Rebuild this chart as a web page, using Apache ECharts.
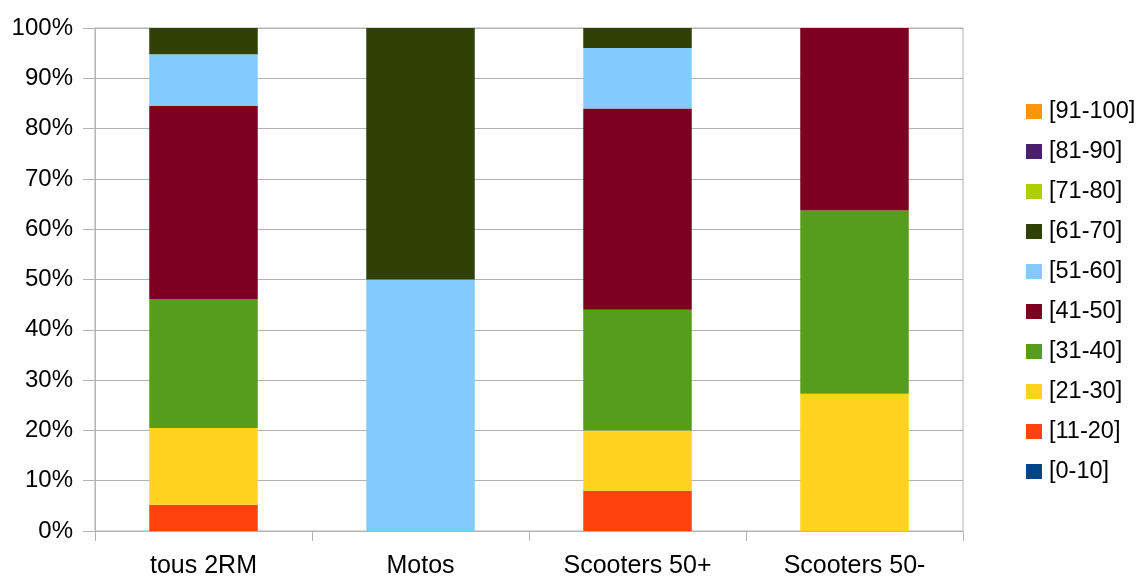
<!DOCTYPE html>
<html>
<head>
<meta charset="utf-8">
<script src="https://cdn.jsdelivr.net/npm/echarts@6/dist/echarts.min.js"></script>
<style>
html,body{margin:0;padding:0;background:#fff;}
#chart{width:1140px;height:578px;}
</style>
</head>
<body>
<div id="chart"></div>
<script>
const categories = ['tous 2RM', 'Motos', 'Scooters 50+', 'Scooters 50-'];
const seriesNames = ['[0-10]', '[11-20]', '[21-30]', '[31-40]', '[41-50]', '[51-60]', '[61-70]', '[71-80]', '[81-90]', '[91-100]'];
const colors = ['#004586', '#ff420e', '#ffd320', '#579d1c', '#7e0021', '#83caff', '#314004', '#aecf00', '#4b1f6f', '#ff950e'];
// percentage shares per category
const v0_10   = [0, 0, 0, 0];
const v11_20  = [5.2, 0, 8, 0];
const v21_30  = [15.3, 0, 12, 27.3];
const v31_40  = [25.6, 0, 24, 36.4];
const v41_50  = [38.4, 0, 40, 36.3];
const v51_60  = [10.3, 50, 12, 0];
const v61_70  = [5.2, 50, 4, 0];
const v71_80  = [0, 0, 0, 0];
const v81_90  = [0, 0, 0, 0];
const v91_100 = [0, 0, 0, 0];
const values = [v0_10, v11_20, v21_30, v31_40, v41_50, v51_60, v61_70, v71_80, v81_90, v91_100];
const yTicks = [0, 10, 20, 30, 40, 50, 60, 70, 80, 90, 100];

const FONT = '"Liberation Sans", Arial, sans-serif';
const gridColor = '#b3b3b3';

const chart = echarts.init(document.getElementById('chart'), null, {renderer: 'canvas'});
chart.setOption({
  animation: false,
  backgroundColor: '#fff',
  grid: {left: 95, right: 177, top: 28, bottom: 47, show: true, borderColor: gridColor, borderWidth: 1,
         containLabel: false, outerBoundsMode: 'none'},
  legend: {
    orient: 'vertical',
    left: 1021,
    top: 94,
    itemWidth: 16,
    itemHeight: 15,
    itemGap: 15,
    icon: 'rect',
    data: seriesNames.slice().reverse(),
    textStyle: {fontFamily: FONT, fontSize: 23.5, color: '#000', lineHeight: 24, padding: [1, 0, 0, 2]}
  },
  xAxis: {
    type: 'category',
    data: categories,
    axisLine: {lineStyle: {color: gridColor, width: 1}},
    axisTick: {show: true, length: 10, lineStyle: {color: gridColor}},
    axisLabel: {fontFamily: FONT, fontSize: 25, color: '#000', margin: 23},
    splitLine: {show: false}
  },
  yAxis: {
    type: 'value',
    min: yTicks[0],
    max: yTicks[yTicks.length - 1],
    interval: 10,
    axisLine: {show: true, lineStyle: {color: gridColor, width: 1}},
    axisTick: {show: true, length: 12, lineStyle: {color: gridColor}},
    axisLabel: {fontFamily: FONT, fontSize: 24, color: '#000', margin: 22, padding: [5, 0, 0, 0], formatter: '{value}%'},
    splitLine: {show: true, lineStyle: {color: gridColor, width: 1}}
  },
  series: seriesNames.map((name, i) => ({
    name: name,
    type: 'bar',
    stack: 'total',
    barWidth: '50%',
    itemStyle: {color: colors[i]},
    data: values[i]
  }))
});
</script>
</body>
</html>
